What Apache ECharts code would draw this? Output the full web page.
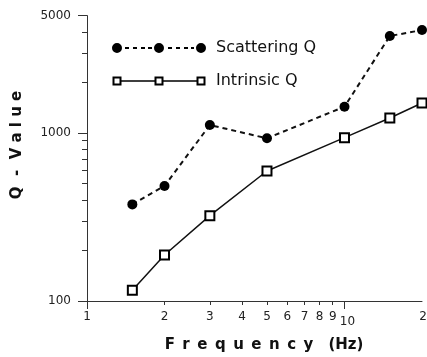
<!DOCTYPE html>
<html>
<head>
<meta charset="utf-8">
<script src="https://cdn.jsdelivr.net/npm/echarts@6/dist/echarts.min.js"></script>
<style>
html,body{margin:0;padding:0;background:#fff;}
#chart{width:427px;height:357px;}
</style>
</head>
<body>
<div id="chart"></div>
<script>
// ---- data ----
const frequency = [1.5, 2, 3, 5, 10, 15, 20];
const scatteringQ = [376, 484, 1116, 930, 1434, 3780, 4100];
const intrinsicQ = [116, 188, 322, 594, 938, 1228, 1509];
const xTickLabels = [1, 2, 3, 4, 5, 6, 7, 8, 9, 10, 20];
const xMajorTicks = [1, 10];
const xMinorTicks = [2, 3, 4, 5, 6, 7, 8, 9];
const yTickLabels = [100, 1000, 5000];
const yMinorTicks = [200, 300, 400, 500, 600, 700, 800, 900, 2000, 3000, 4000];
const xRange = [1, 20];
const yRange = [100, 5000];
const seriesNames = ['Scattering Q', 'Intrinsic Q'];
const xTitle = 'F\u2002r\u2002e\u2002q\u2002u\u2002e\u2002n\u2002c\u2002y\u2002\u2002(Hz)';
const yTitle = 'Q  -  V a l u e';

const chart = echarts.init(document.getElementById('chart'), null, {renderer: 'canvas'});

const axisColor = '#333';
const labelFont = {fontFamily: 'DejaVu Sans', fontSize: 12, color: '#222'};
const lg = Math.log10;

// legend icons (vector samples)
const dotIcon = 'path://' +
  'M0 5a5 5 0 1 0 10 0a5 5 0 1 0 -10 0Z' +
  'M42 5a5 5 0 1 0 10 0a5 5 0 1 0 -10 0Z' +
  'M84 5a5 5 0 1 0 10 0a5 5 0 1 0 -10 0Z' +
  'M13 4H17V6H13Z M21 4H25V6H21Z M29 4H33V6H29Z M36 4H40V6H36Z' +
  'M56 4H60V6H56Z M64 4H68V6H64Z M72 4H76V6H72Z M79 4H82V6H79Z';
const squareIcon = 'path://' +
  'M0.5 0.5H9.5V9.5H0.5Z M2.5 2.5V7.5H7.5V2.5Z' +
  'M42.5 0.5H51.5V9.5H42.5Z M44.5 2.5V7.5H49.5V2.5Z' +
  'M84.5 0.5H93.5V9.5H84.5Z M86.5 2.5V7.5H91.5V2.5Z' +
  'M9.5 4.3H42.5V5.7H9.5Z M51.5 4.3H84.5V5.7H51.5Z' +
  'M0 0L94 0L94 10L0 10L0 0Z M0 0L0 10L94 10L94 0L0 0Z';

// tick-only axes in log10 space (aligned with the log axes)
function tickAxis(pos, range, ticks, len) {
  return {
    type: 'value', position: pos, min: lg(range[0]), max: lg(range[1]),
    axisLine: {show: false},
    axisTick: {show: true, customValues: ticks.map(lg), length: len, lineStyle: {color: axisColor, width: 1}},
    axisLabel: {show: false},
    splitLine: {show: false}
  };
}

const option = {
  animation: false,
  backgroundColor: '#fff',
  grid: {left: 87, right: 5, top: 15.6, bottom: 56, containLabel: false, outerBoundsMode: 'none'},
  legend: {
    orient: 'vertical',
    left: 107,
    top: 35,
    itemWidth: 94,
    itemHeight: 10,
    itemGap: 17,
    selectedMode: false,
    textStyle: {fontFamily: 'DejaVu Sans', fontSize: 16, color: '#111', padding: [0, 0, 0, 5]},
    data: [
      {name: seriesNames[0], icon: dotIcon, itemStyle: {color: '#000', borderWidth: 0}},
      {name: seriesNames[1], icon: squareIcon, itemStyle: {color: '#000', borderWidth: 0}}
    ]
  },
  xAxis: [
    {
      type: 'log', logBase: 10, min: xRange[0], max: xRange[1], position: 'bottom',
      axisLine: {show: true, lineStyle: {color: axisColor, width: 1}},
      axisTick: {show: false},
      axisLabel: {
        show: true, customValues: xTickLabels, margin: 10,
        ...labelFont,
        formatter: function (v) {
          if (v === 10) return '{ten|10}';
          if (v === 20) return '{end|20}';
          return String(v);
        },
        rich: {
          ten: {...labelFont, padding: [5, 0, 0, 6]},
          end: {...labelFont, padding: [0, 0, 0, 10]}
        }
      },
      splitLine: {show: false},
      minorTick: {show: false}
    },
    tickAxis('bottom', xRange, xMajorTicks, 8),
    tickAxis('bottom', xRange, xMinorTicks, 4)
  ],
  yAxis: [
    {
      type: 'log', logBase: 10, min: yRange[0], max: yRange[1], position: 'left',
      axisLine: {show: true, lineStyle: {color: axisColor, width: 1}},
      axisTick: {show: false},
      axisLabel: {show: true, customValues: yTickLabels, margin: 16, ...labelFont,
        formatter: function (v) { return String(Math.round(v)); }},
      splitLine: {show: false},
      minorTick: {show: false}
    },
    tickAxis('left', yRange, yTickLabels, 9),
    tickAxis('left', yRange, yMinorTicks, 5)
  ],
  graphic: [
    {
      type: 'text', x: 264, y: 345, silent: true,
      style: {text: xTitle, font: 'bold 15px "DejaVu Sans"', fill: '#111', align: 'center', verticalAlign: 'middle'}
    },
    {
      type: 'text', x: 17, y: 145, rotation: Math.PI / 2, silent: true,
      style: {text: yTitle, font: 'bold 15px "DejaVu Sans"', fill: '#111', align: 'center', verticalAlign: 'middle'}
    }
  ],
  series: [
    {
      name: seriesNames[0],
      type: 'line',
      xAxisIndex: 0, yAxisIndex: 0,
      data: frequency.map((f, i) => [f, scatteringQ[i]]),
      symbol: 'circle', symbolSize: 10,
      clip: false,
      itemStyle: {color: '#000'},
      lineStyle: {color: '#111', width: 2, type: [5, 4]},
      z: 3
    },
    {
      name: seriesNames[1],
      type: 'line',
      xAxisIndex: 0, yAxisIndex: 0,
      data: frequency.map((f, i) => [f, intrinsicQ[i]]),
      symbol: 'rect', symbolSize: 9,
      clip: false,
      itemStyle: {color: '#fff', borderColor: '#000', borderWidth: 2},
      lineStyle: {color: '#111', width: 1.5, type: 'solid'},
      z: 2
    }
  ]
};
chart.setOption(option);
</script>
</body>
</html>
